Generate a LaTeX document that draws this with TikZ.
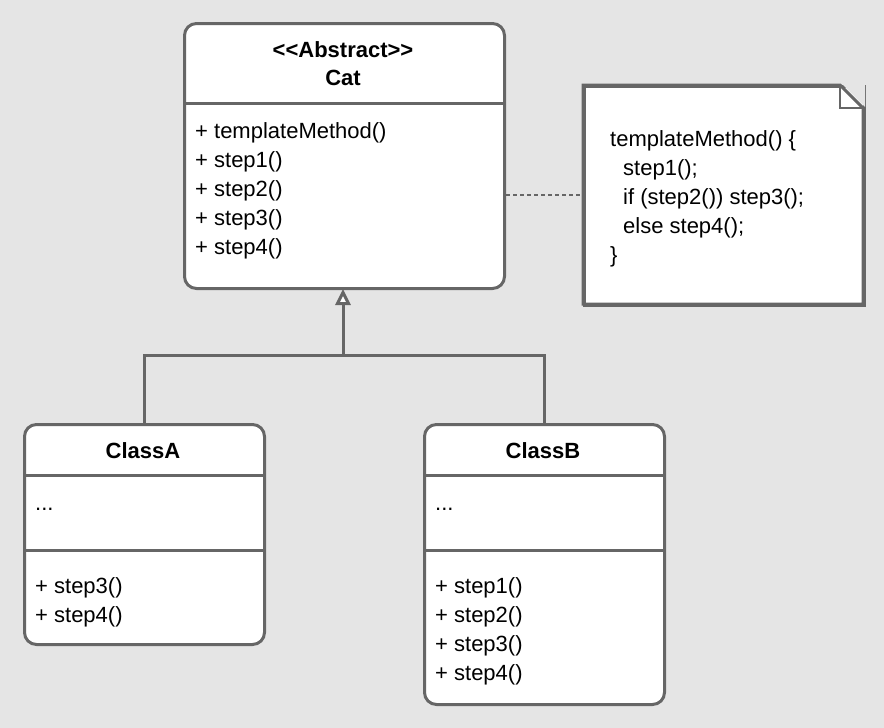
\documentclass[tikz,border=0pt]{standalone}
\usepackage{fontspec}
\setmainfont{Liberation Sans}
\usetikzlibrary{positioning,arrows.meta}

\tikzset{
  umlbox/.style={draw=black!60, line width=3pt, fill=white, rounded corners=12pt,
    anchor=north west, inner sep=0pt},
  divider/.style={draw=black!60, line width=3pt},
  member/.style={anchor=base west, align=left, inner sep=0pt,
    font=\fontsize{22}{29}\selectfont},
  title/.style={anchor=base, font=\fontsize{22}{28}\selectfont\bfseries, inner sep=0pt},
  link/.style={draw=black!60, line width=3pt}
}

\begin{document}
\begin{tikzpicture}[x=1pt,y=-1pt]
    \fill [black!10] (0,0) rectangle (884,728);
    \useasboundingbox (0,0) rectangle (884,728);
    % abstract class
    \node [umlbox, minimum width=320pt, minimum height=265pt] (cat) at (183,22) {};
    \draw [divider] (183,103) -- (503,103);
    \node [title] (stereo) at (343,57) {\textless\kern0pt\textless Abstract\textgreater\kern0pt\textgreater};
    \node [title] (catname) at (343,85) {Cat};
    \node [member] (catops) at (195,254) {+ templateMethod()\\+ step1()\\+ step2()\\+ step3()\\+ step4()};
    % note
    \node [draw=black!60, line width=3pt, fill=white, minimum width=280pt, minimum height=219pt,
      anchor=north west, inner sep=0pt] (note) at (583,85) {};
    \fill [black!10] (841,83) -- (865,83) -- (865,107) -- cycle;
    \draw [divider, line join=miter] (583,85) -- (840,85) -- (863,108) -- (863,304) -- (583,304) -- cycle;
    \draw [black!60, line width=2pt] (840,85) -- (840,108) -- (863,108);
    \node [member] (notetext) at (610,262) {templateMethod() \{\\\hspace*{13pt}step1();\\\hspace*{13pt}if (step2()) step3();\\\hspace*{13pt}else step4();\\\}};
    \draw [black!60, line width=1.2pt, dash pattern=on 4pt off 3pt] (cat.east |- 0,195) -- (note.west |- 0,195);
    % subclasses
    \node [umlbox, minimum width=240pt, minimum height=220pt] (classA) at (23,423) {};
    \draw [divider] (23,475) -- (263,475);
    \draw [divider] (23,550) -- (263,550);
    \node [title] (nameA) at (143,458) {ClassA};
    \node [member] (attrA) at (35,510) {...};
    \node [member] (opsA) at (35,622) {+ step3()\\+ step4()};
    \node [umlbox, minimum width=240pt, minimum height=280pt] (classB) at (423,423) {};
    \draw [divider] (423,475) -- (663,475);
    \draw [divider] (423,550) -- (663,550);
    \node [title] (nameB) at (543,458) {ClassB};
    \node [member] (attrB) at (435,510) {...};
    \node [member] (opsB) at (435,680) {+ step1()\\+ step2()\\+ step3()\\+ step4()};
    % inheritance
    \coordinate (fork) at (343,355);
    \draw [link] (classA.north) |- (fork) -| (classB.north);
    \draw [link, -{Triangle[open, length=16pt, width=15pt, fill=white]}] (fork) -- (343,289);
\end{tikzpicture}
\end{document}
